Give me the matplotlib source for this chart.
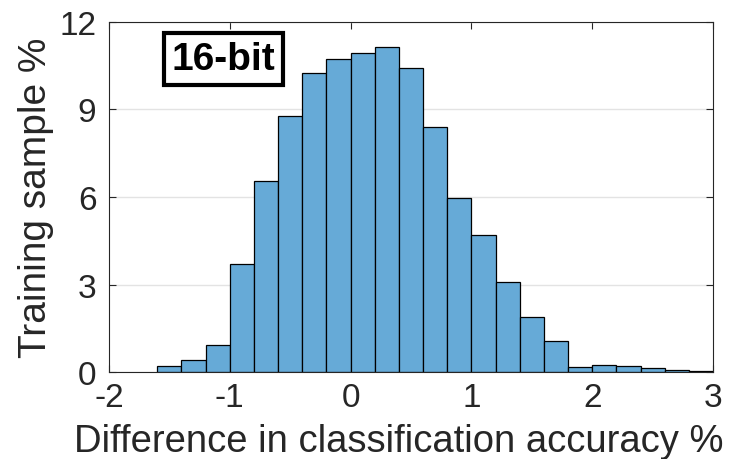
import numpy as np
import matplotlib.pyplot as plt

# histogram bins (%) and bar heights (% of training samples)
bin_edges = [-1.6, -1.4, -1.2, -1.0, -0.8, -0.6, -0.4, -0.2, 0.0, 0.2, 0.4,
             0.6, 0.8, 1.0, 1.2, 1.4, 1.6, 1.8, 2.0, 2.2, 2.4, 2.6, 2.8, 3.0]
heights = [0.23, 0.42, 0.95, 3.70, 6.54, 8.78, 10.23, 10.74, 10.92, 11.12, 10.42,
           8.41, 5.98, 4.71, 3.10, 1.88, 1.08, 0.19, 0.24, 0.21, 0.15, 0.08, 0.05]
xticks = [-2, -1, 0, 1, 2, 3]
yticks = [0, 3, 6, 9, 12]

plt.rcParams['font.family'] = ['Liberation Sans', 'DejaVu Sans']
plt.rcParams['axes.unicode_minus'] = False

fig = plt.figure(figsize=(7.34, 4.6), dpi=100)
ax = fig.add_axes([0.1485, 0.1885, 0.8229, 0.762])

edges = np.array(bin_edges)
ax.bar(edges[:-1], heights, width=np.diff(edges), align='edge',
       color='#66aad7', edgecolor='black', linewidth=0.9, zorder=2)

ax.set_xlim(-2, 3)
ax.set_ylim(0, 12)
ax.set_xticks(xticks)
ax.set_yticks(yticks)
ax.yaxis.grid(True, color='#e3e3e3', linewidth=1, zorder=0)
ax.set_axisbelow(True)
ax.tick_params(direction='in', top=True, right=True, length=5, width=0.8,
               labelsize=24, colors='#262626')
ax.tick_params(axis='x', pad=7)
ax.tick_params(axis='y', pad=9)
for s in ax.spines.values():
    s.set_color('#262626')
    s.set_linewidth(0.8)

# x label sits a bit left of the axes centre, like the original
fig.text(0.5436, 0.018, 'Difference in classification accuracy %', fontsize=27.5,
         color='#262626', ha='center', va='baseline')
ax.set_ylabel('Training sample %', fontsize=28, color='#262626', labelpad=4)

ax.text(0.19, 0.894, '16-bit', transform=ax.transAxes, ha='center', va='center',
        fontsize=28, fontweight='bold',
        bbox=dict(boxstyle='square,pad=0.2', facecolor='white', edgecolor='black', linewidth=3))

fig.savefig('out.png', dpi=100)
